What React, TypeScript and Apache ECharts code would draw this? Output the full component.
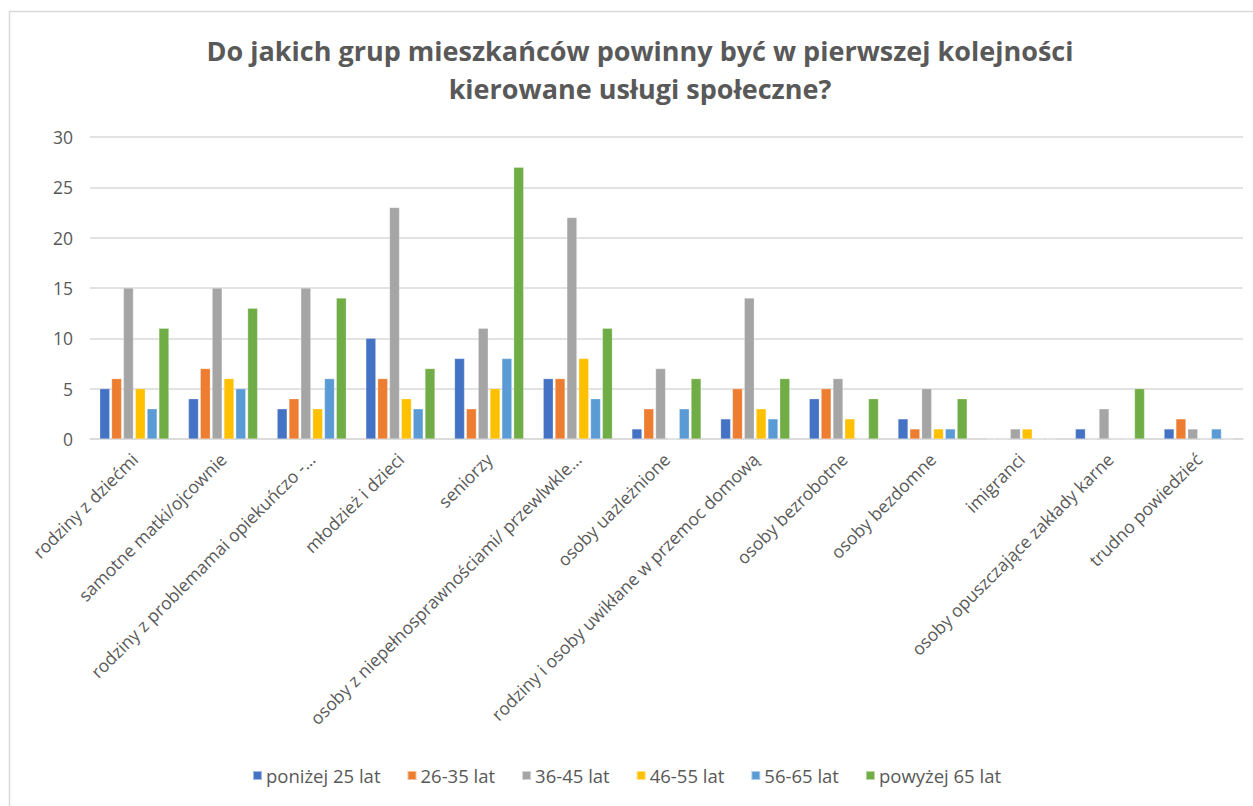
import React, { useEffect, useRef } from "react";
import * as echarts from "echarts";

const titleLines = [
  "Do jakich grup mieszkańców powinny być w pierwszej kolejności",
  "kierowane usługi społeczne?",
];

const categories = [
  "rodziny z dziećmi",
  "samotne matki/ojcownie",
  "rodziny z problemamai opiekuńczo -…",
  "młodzież i dzieci",
  "seniorzy",
  "osoby z niepełnosprawnościami/ przewlwkle…",
  "osoby uazleżnione",
  "rodziny i osoby uwikłane w przemoc domową",
  "osoby bezrobotne",
  "osoby bezdomne",
  "imigranci",
  "osoby opuszczające zakłady karne",
  "trudno powiedzieć",
];

const seriesNames = [
  "poniżej 25 lat",
  "26-35 lat",
  "36-45 lat",
  "46-55 lat",
  "56-65 lat",
  "powyżej 65 lat",
];

const below25 = [5, 4, 3, 10, 8, 6, 1, 2, 4, 2, 0, 1, 1];
const age26to35 = [6, 7, 4, 6, 3, 6, 3, 5, 5, 1, 0, 0, 2];
const age36to45 = [15, 15, 15, 23, 11, 22, 7, 14, 6, 5, 1, 3, 1];
const age46to55 = [5, 6, 3, 4, 5, 8, 0, 3, 2, 1, 1, 0, 0];
const age56to65 = [3, 5, 6, 3, 8, 4, 3, 2, 0, 1, 0, 0, 1];
const above65 = [11, 13, 14, 7, 27, 11, 6, 6, 4, 4, 0, 5, 0];

const seriesData = [below25, age26to35, age36to45, age46to55, age56to65, above65];
const colors = ["#4472C4", "#ED7D31", "#A5A5A5", "#FFC000", "#5B9BD5", "#70AD47"];

const yTicks = { min: 0, max: 30, interval: 5 };

export default function App() {
  const ref = useRef<HTMLDivElement>(null);

  useEffect(() => {
    if (!ref.current) return;
    const chart = echarts.init(ref.current, null, { renderer: "svg" });
    const font = "'Open Sans', 'Noto Sans', sans-serif";
    chart.setOption({
      animation: false,
      backgroundColor: "#ffffff",
      color: colors,
      graphic: [
        {
          type: "rect",
          shape: { x: 9.5, y: 11.5, width: 1300, height: 900 },
          style: { fill: "none", stroke: "#d9d9d9", lineWidth: 1.5 },
          silent: true,
        },
        {
          type: "text",
          x: 640,
          y: 31,
          silent: true,
          style: {
            text: titleLines.join("\n"),
            fontFamily: font,
            fontWeight: "bold",
            fontSize: 27,
            fill: "#595959",
            lineHeight: 38,
            align: "center",
            verticalAlign: "top",
          },
        },
      ],
      legend: {
        data: seriesNames,
        bottom: 16,
        left: "center",
        itemWidth: 9,
        itemHeight: 9,
        itemGap: 26,
        icon: "rect",
        textStyle: { fontFamily: font, fontSize: 18.5, color: "#595959", padding: [0, 0, 0, -1] },
      },
      grid: { left: 90, right: 10, top: 137, bottom: 367, containLabel: false },
      xAxis: {
        type: "category",
        data: categories,
        axisLine: { lineStyle: { color: "#d9d9d9", width: 1.5 } },
        axisTick: { show: false },
        axisLabel: {
          rotate: 45,
          interval: 0,
          margin: 17,
          fontFamily: font,
          fontSize: 17.5,
          color: "#595959",
        },
      },
      yAxis: {
        type: "value",
        min: yTicks.min,
        max: yTicks.max,
        interval: yTicks.interval,
        axisLine: { show: false },
        axisTick: { show: false },
        splitLine: { lineStyle: { color: "#d9d9d9", width: 1.5 } },
        axisLabel: {
          margin: 17,
          fontFamily: font,
          fontSize: 17.5,
          color: "#595959",
        },
      },
      series: seriesNames.map((name, i) => ({
        name,
        type: "bar",
        data: seriesData[i],
        barGap: "18%",
        barCategoryGap: "22%",
        itemStyle: { color: colors[i], borderColor: "rgba(255,255,255,0.5)", borderWidth: 0.5 },
      })),
    });
    return () => chart.dispose();
  }, []);

  return (
    <div
      ref={ref}
      style={{ position: "absolute", left: 0, top: 0, width: 1253, height: 806 }}
    />
  );
}
